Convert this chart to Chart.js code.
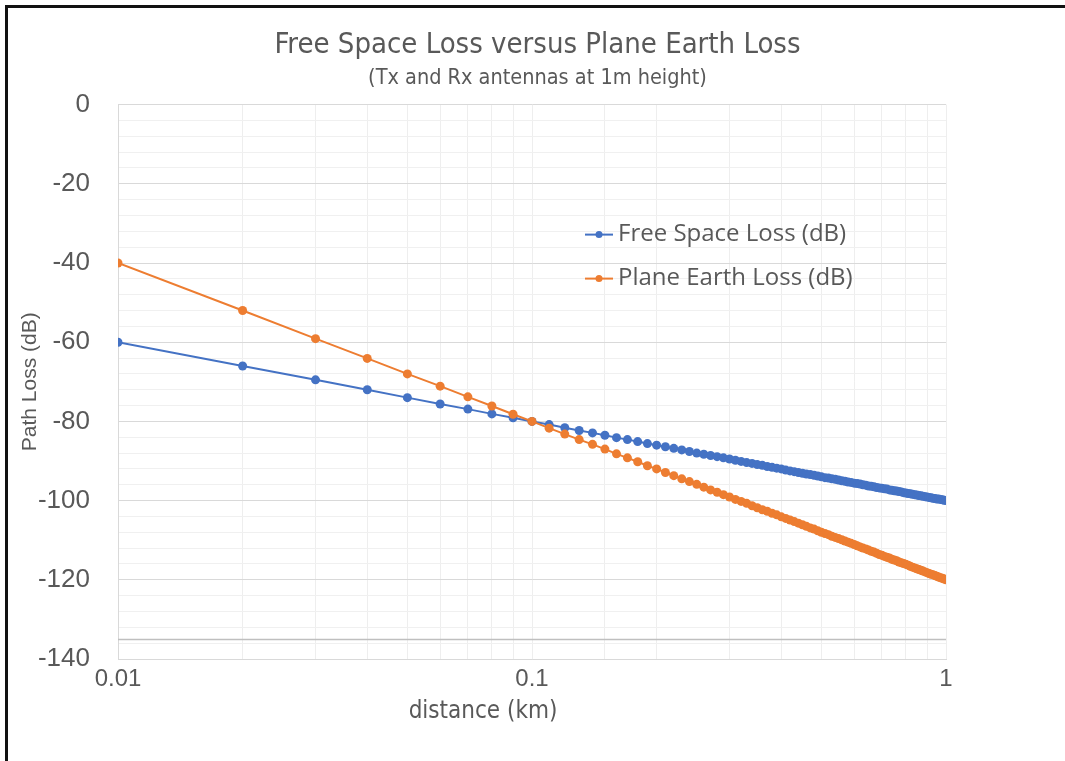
<!DOCTYPE html>
<html>
<head>
<meta charset="utf-8">
<title>Free Space Loss versus Plane Earth Loss</title>
<script src="https://cdn.jsdelivr.net/npm/chart.js@4.4.1/dist/chart.umd.min.js"></script>
<style>
    body { margin: 0; background: #fff; }
    #wrap { position: relative; width: 1065px; height: 761px; }
    #frame { position: absolute; left: 5px; top: 5px; right: 0; bottom: 0;
             border-left: 3px solid #111; border-top: 3px solid #111; pointer-events: none; }
</style>
</head>
<body>
<div id="wrap">
    <canvas id="lossChart" width="1065" height="761"></canvas>
    <div id="frame"></div>
</div>
<script>
// Distance en km (0.01 à 1.00)
const distances = [
    0.01, 0.02, 0.03, 0.04, 0.05, 0.06, 0.07, 0.08, 0.09, 0.10,
    0.11, 0.12, 0.13, 0.14, 0.15, 0.16, 0.17, 0.18, 0.19, 0.20,
    0.21, 0.22, 0.23, 0.24, 0.25, 0.26, 0.27, 0.28, 0.29, 0.30,
    0.31, 0.32, 0.33, 0.34, 0.35, 0.36, 0.37, 0.38, 0.39, 0.40,
    0.41, 0.42, 0.43, 0.44, 0.45, 0.46, 0.47, 0.48, 0.49, 0.50,
    0.51, 0.52, 0.53, 0.54, 0.55, 0.56, 0.57, 0.58, 0.59, 0.60,
    0.61, 0.62, 0.63, 0.64, 0.65, 0.66, 0.67, 0.68, 0.69, 0.70,
    0.71, 0.72, 0.73, 0.74, 0.75, 0.76, 0.77, 0.78, 0.79, 0.80,
    0.81, 0.82, 0.83, 0.84, 0.85, 0.86, 0.87, 0.88, 0.89, 0.90,
    0.91, 0.92, 0.93, 0.94, 0.95, 0.96, 0.97, 0.98, 0.99, 1.00
];

// Free Space Loss (dB)
const freeSpaceLoss = [
    -60.0, -66.0, -69.5, -72.0, -74.0, -75.6, -76.9, -78.1, -79.1, -80.0,
    -80.8, -81.6, -82.3, -82.9, -83.5, -84.1, -84.6, -85.1, -85.6, -86.0,
    -86.4, -86.8, -87.2, -87.6, -88.0, -88.3, -88.6, -88.9, -89.2, -89.5,
    -89.8, -90.1, -90.4, -90.6, -90.9, -91.1, -91.4, -91.6, -91.8, -92.0,
    -92.3, -92.5, -92.7, -92.9, -93.1, -93.3, -93.4, -93.6, -93.8, -94.0,
    -94.2, -94.3, -94.5, -94.6, -94.8, -95.0, -95.1, -95.3, -95.4, -95.6,
    -95.7, -95.8, -96.0, -96.1, -96.3, -96.4, -96.5, -96.7, -96.8, -96.9,
    -97.0, -97.1, -97.3, -97.4, -97.5, -97.6, -97.7, -97.8, -98.0, -98.1,
    -98.2, -98.3, -98.4, -98.5, -98.6, -98.7, -98.8, -98.9, -99.0, -99.1,
    -99.2, -99.3, -99.4, -99.5, -99.6, -99.6, -99.7, -99.8, -99.9, -100.0
];

// Plane Earth Loss (dB)
const planeEarthLoss = [
    -40.0, -52.0, -59.1, -64.1, -68.0, -71.1, -73.8, -76.1, -78.2, -80.0,
    -81.7, -83.2, -84.6, -85.8, -87.0, -88.2, -89.2, -90.2, -91.2, -92.0,
    -92.9, -93.7, -94.5, -95.2, -95.9, -96.6, -97.3, -97.9, -98.5, -99.1,
    -99.7, -100.2, -100.7, -101.3, -101.8, -102.3, -102.7, -103.2, -103.6, -104.1,
    -104.5, -104.9, -105.3, -105.7, -106.1, -106.5, -106.9, -107.2, -107.6, -108.0,
    -108.3, -108.6, -109.0, -109.3, -109.6, -109.9, -110.2, -110.5, -110.8, -111.1,
    -111.4, -111.7, -112.0, -112.2, -112.5, -112.8, -113.0, -113.3, -113.6, -113.8,
    -114.1, -114.3, -114.5, -114.8, -115.0, -115.2, -115.5, -115.7, -115.9, -116.1,
    -116.3, -116.6, -116.8, -117.0, -117.2, -117.4, -117.6, -117.8, -118.0, -118.2,
    -118.4, -118.6, -118.7, -118.9, -119.1, -119.3, -119.5, -119.6, -119.8, -120.0
];

// Étiquettes des axes
const xMajorTicks = [0.01, 0.1, 1];
const yMin = -140;
const yMax = 0;
const yAxisCross = -135;

const textColor = '#595959';
const narrowFont = "'Liberation Sans Narrow', 'DejaVu Sans Condensed', 'Open Sans', sans-serif";
const sansFont = "'Liberation Sans', Arial, sans-serif";

const toPoints = (values) => distances.map((d, i) => ({ x: d, y: values[i] }));

// Ligne horizontale où l'axe des x croise (-135)
const axisCrossLine = {
    id: 'axisCrossLine',
    beforeDatasetsDraw(chart) {
        const { ctx, chartArea, scales } = chart;
        const y = Math.round(scales.y.getPixelForValue(yAxisCross)) + 0.5;
        ctx.save();
        ctx.strokeStyle = '#bfbfbf';
        ctx.lineWidth = 1.5;
        ctx.beginPath();
        ctx.moveTo(chartArea.left, y);
        ctx.lineTo(chartArea.right, y);
        ctx.stroke();
        ctx.restore();
    }
};

// Légende dessinée dans la zone du graphique + titre de l'axe x (décalé à gauche comme l'original)
const insideLegend = {
    id: 'insideLegend',
    afterDraw(chart) {
        const { ctx, chartArea } = chart;
        const x0 = chartArea.left + 467;
        let y = chartArea.top + 130;
        ctx.save();
        chart.data.datasets.forEach((ds) => {
            ctx.strokeStyle = ds.borderColor;
            ctx.lineWidth = 2;
            ctx.beginPath();
            ctx.moveTo(x0, y);
            ctx.lineTo(x0 + 28, y);
            ctx.stroke();
            ctx.fillStyle = ds.borderColor;
            ctx.beginPath();
            ctx.arc(x0 + 14, y, 3.5, 0, Math.PI * 2);
            ctx.fill();
            ctx.fillStyle = textColor;
            ctx.font = "24px 'Open Sans', sans-serif";
            ctx.textBaseline = 'middle';
            ctx.fillText(ds.label, x0 + 33, y);
            y += 44;
        });

        ctx.fillStyle = textColor;
        ctx.font = "24px " + narrowFont;
        ctx.textAlign = 'center';
        ctx.textBaseline = 'middle';
        ctx.fillText('distance (km)', chartArea.left + 365, chartArea.bottom + 53);
        ctx.restore();
    }
};

const ctx = document.getElementById('lossChart').getContext('2d');
const lossChart = new Chart(ctx, {
    type: 'line',
    data: {
        datasets: [
            {
                label: 'Free Space Loss (dB)',
                data: toPoints(freeSpaceLoss),
                borderColor: '#4472C4',
                backgroundColor: '#4472C4',
                borderWidth: 2,
                pointRadius: 4.5,
                pointBorderWidth: 0,
                order: 1,
            },
            {
                label: 'Plane Earth Loss (dB)',
                data: toPoints(planeEarthLoss),
                borderColor: '#ED7D31',
                backgroundColor: '#ED7D31',
                borderWidth: 2,
                pointRadius: 4.5,
                pointBorderWidth: 0,
                order: 0,
            },
        ],
    },
    options: {
        responsive: false,
        animation: false,
        layout: { padding: { left: 10, right: 0, top: 0, bottom: 0 } },
        plugins: {
            legend: { display: false },
            tooltip: { enabled: false },
            title: {
                display: true,
                text: 'Free Space Loss versus Plane Earth Loss',
                color: textColor,
                font: { family: narrowFont, size: 29, weight: 'normal' },
                padding: { top: 28, bottom: 3 },
            },
            subtitle: {
                display: true,
                text: '(Tx and Rx antennas at 1m height)',
                color: textColor,
                font: { family: narrowFont, size: 21.5 },
                padding: { top: 0, bottom: 13 },
            },
        },
        scales: {
            x: {
                type: 'logarithmic',
                min: 0.01,
                max: 1,
                afterFit: (scale) => { scale.height = 102; },
                border: { color: '#d9d9d9' },
                grid: { color: '#eeeeee', drawTicks: false },
                ticks: {
                    autoSkip: false,
                    maxRotation: 0,
                    padding: 6,
                    color: textColor,
                    font: { family: sansFont, size: 24 },
                    callback: (value) => {
                        const hit = xMajorTicks.some(t => Math.abs(t - value) < 1e-9);
                        return hit ? String(value) : '';
                    },
                },
            },
            y: {
                min: yMin,
                max: yMax,
                afterFit: (scale) => { scale.width = 108; },
                border: { color: '#d9d9d9' },
                grid: {
                    drawTicks: false,
                    color: (c) => (c.tick && c.tick.value % 20 === 0) ? '#d9d9d9' : '#f0f0f0',
                },
                ticks: {
                    stepSize: 4,
                    autoSkip: false,
                    padding: 28,
                    color: textColor,
                    font: { family: sansFont, size: 26 },
                    callback: (value) => value % 20 === 0 ? String(value) : '',
                },
                title: {
                    display: true,
                    text: 'Path Loss (dB)',
                    color: textColor,
                    font: { family: sansFont, size: 21 },
                    padding: { top: 8, bottom: 0 },
                },
            },
            // axe vide à droite, juste pour garder la marge de droite
            yRight: {
                position: 'right',
                afterFit: (scale) => { scale.width = 119; },
                grid: { display: false },
                border: { display: false },
                ticks: { display: false },
            },
        },
    },
    plugins: [axisCrossLine, insideLegend],
});
</script>
</body>
</html>
